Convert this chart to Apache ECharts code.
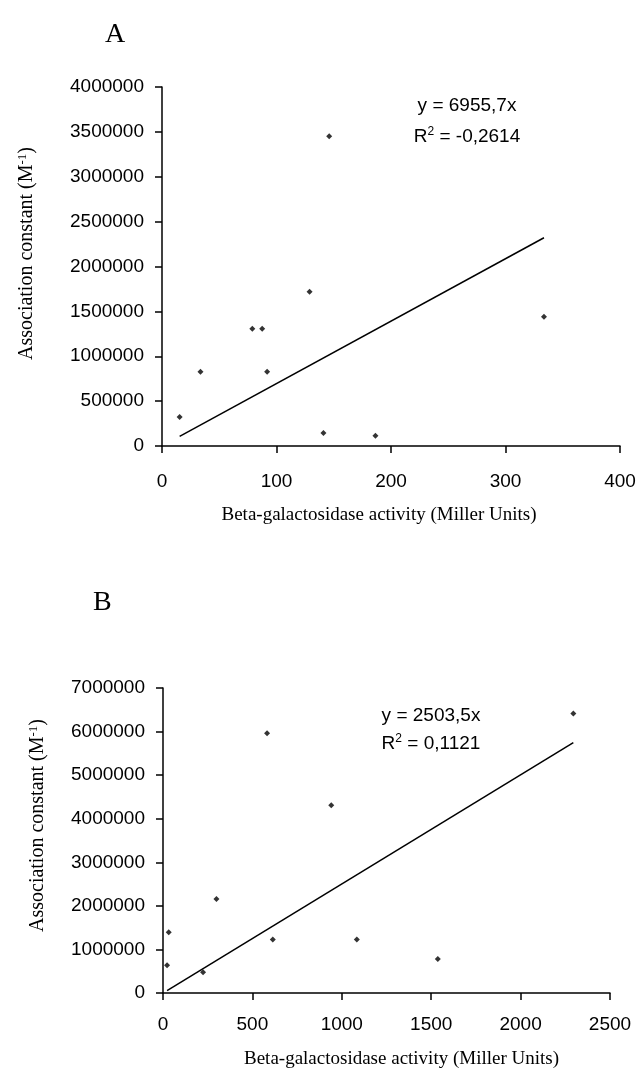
<!DOCTYPE html>
<html>
<head>
<meta charset="utf-8">
<script src="https://cdn.jsdelivr.net/npm/echarts@6/dist/echarts.min.js"></script>
<style>
  html, body { margin: 0; padding: 0; background: #fff; }
  #chart { width: 640px; height: 1073px; }
</style>
</head>
<body>
<div id="chart"></div>
<script>
// panel A: beta-galactosidase activity vs association constant
const activityA = [15.4, 33.6, 78.9, 87.5, 91.8, 128.9, 141, 146, 186.4, 333.6];
const constantA = [322000, 826000, 1307000, 1307000, 826000, 1718000, 144000, 3452000, 115000, 1441000];
const trendA = [[15.4, 107000], [333.6, 2320000]];
const equationA = "y = 6955,7x";
const r2A = "-0,2614";

// panel B
const activityB = [22.8, 32, 224, 299, 582, 614, 941, 1084, 1537, 2295];
const constantB = [636000, 1396000, 475000, 2155000, 5962000, 1227000, 4310000, 1227000, 782000, 6414000];
const trendB = [[22.8, 57000], [2295, 5745000]];
const equationB = "y = 2503,5x";
const r2B = "0,1121";

const xName = "Beta-galactosidase activity (Miller Units)";

function pairs(xs, ys) {
  return xs.map((x, i) => [x, ys[i]]);
}

const sans = "Liberation Sans, Arial, sans-serif";
const serif = "Liberation Serif, Times New Roman, serif";

function xAxisOpt(gridIndex, max, interval, labelMargin, nameGap, namePad) {
  return {
    gridIndex: gridIndex,
    type: "value",
    min: 0,
    max: max,
    interval: interval,
    splitLine: { show: false },
    axisLine: { onZero: false, lineStyle: { color: "#000", width: 1.5 } },
    axisTick: { show: true, length: 7, lineStyle: { color: "#000", width: 1.5 } },
    axisLabel: { color: "#000", fontFamily: sans, fontSize: 19, margin: labelMargin, formatter: (v) => String(v) },
    name: xName,
    nameLocation: "middle",
    nameGap: nameGap,
    nameTextStyle: { color: "#000", fontFamily: serif, fontSize: 19, padding: namePad },
  };
}

function yAxisOpt(gridIndex, max, interval, nameGap, namePad) {
  return {
    gridIndex: gridIndex,
    type: "value",
    min: 0,
    max: max,
    interval: interval,
    splitLine: { show: false },
    axisLine: { show: true, lineStyle: { color: "#000", width: 1.5 } },
    axisTick: { show: true, length: 7, lineStyle: { color: "#000", width: 1.5 } },
    axisLabel: { color: "#000", fontFamily: sans, fontSize: 19, margin: 18, formatter: (v) => String(v) },
    name: "Association constant (M{sup|-1})",
    nameLocation: "middle",
    nameGap: nameGap,
    nameRotate: 90,
    nameTextStyle: {
      color: "#000",
      fontFamily: serif,
      fontSize: 20,
      padding: namePad,
      rich: { sup: { fontFamily: serif, fontSize: 13, verticalAlign: "top", padding: [0, 0, 8, 0] } },
    },
  };
}

function annotation(x, y, dy, eq, r2) {
  return [
    {
      type: "text",
      x: x,
      y: y,
      style: { text: eq, font: "19px " + sans, fill: "#000", textAlign: "center", textVerticalAlign: "middle" },
    },
    {
      type: "text",
      x: x,
      y: y + dy,
      style: {
        text: "R{sup|2} = " + r2,
        font: "19px " + sans,
        fill: "#000",
        textAlign: "center",
        textVerticalAlign: "middle",
        rich: { sup: { fontSize: 12, fontFamily: sans, padding: [0, 0, 10, 0] } },
      },
    },
  ];
}

const chart = echarts.init(document.getElementById("chart"));

chart.setOption({
  backgroundColor: "#fff",
  animation: false,
  title: [
    { text: "A", left: 100, top: 16, textStyle: { fontFamily: serif, fontSize: 28, fontWeight: "normal", color: "#000" } },
    { text: "B", left: 88, top: 584, textStyle: { fontFamily: serif, fontSize: 28, fontWeight: "normal", color: "#000" } },
  ],
  grid: [
    { left: 162, right: 20, top: 87, bottom: 627 },
    { left: 163, right: 30, top: 688, bottom: 80 },
  ],
  xAxis: [
    xAxisOpt(0, 400, 100, 26, 60, [0, 24, 0, 0]),
    xAxisOpt(1, 2500, 500, 22, 57, [0, 0, 0, 30]),
  ],
  yAxis: [
    yAxisOpt(0, 4000000, 500000, 125, [0, 0, 0, 26]),
    yAxisOpt(1, 7000000, 1000000, 115, [0, 0, 0, 30]),
  ],
  graphic: annotation(467, 106, 31, equationA, r2A).concat(annotation(431, 716, 28, equationB, r2B)),
  series: [
    {
      type: "scatter",
      xAxisIndex: 0,
      yAxisIndex: 0,
      symbol: "diamond",
      symbolSize: 6,
      itemStyle: { color: "#000" },
      data: pairs(activityA, constantA),
    },
    {
      type: "line",
      xAxisIndex: 0,
      yAxisIndex: 0,
      symbol: "none",
      lineStyle: { color: "#000", width: 1.5 },
      data: trendA,
    },
    {
      type: "scatter",
      xAxisIndex: 1,
      yAxisIndex: 1,
      symbol: "diamond",
      symbolSize: 6,
      itemStyle: { color: "#000" },
      data: pairs(activityB, constantB),
    },
    {
      type: "line",
      xAxisIndex: 1,
      yAxisIndex: 1,
      symbol: "none",
      lineStyle: { color: "#000", width: 1.5 },
      data: trendB,
    },
  ],
});
</script>
</body>
</html>
